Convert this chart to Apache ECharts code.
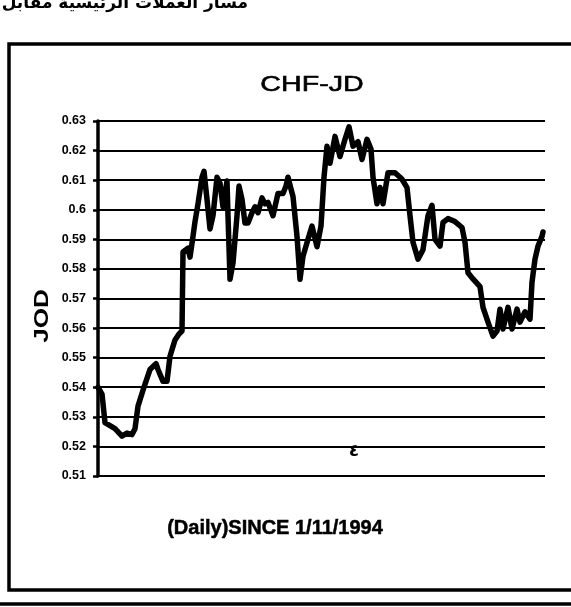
<!DOCTYPE html>
<html>
<head>
<meta charset="utf-8">
<script src="https://cdn.jsdelivr.net/npm/echarts@6/dist/echarts.min.js"></script>
<style>
html,body{margin:0;padding:0;background:#fff;}
#chart{width:571px;height:607px;}
</style>
</head>
<body>
<div id="chart"></div>
<script>
// Time position (days-ish units along the x axis)
const days = [0,4,7,12,17,24,29,34,37,40,
  45,49,52,55,58,60,65,69,72,77,
  81,84,85,87,90,92,95,97,100,104,
  106,109,112,115,119,122,125,129,130,132,
  135,139,141,144,147,150,154,157,160,164,
  167,170,175,180,185,188,190,193,195,199,
  202,205,210,214,219,223,226,229,232,237,
  242,247,251,255,260,264,269,273,275,279,
  282,285,290,297,302,304,309,312,315,320,
  325,330,334,337,342,345,350,357,364,367,
  370,375,382,385,390,395,399,402,405,410,
  414,419,422,427,432,434,437,440,444,445];
// CHF-JD rate
const rates = [0.540,0.5377,0.528,0.527,0.526,0.5235,0.5245,0.524,0.526,0.5336,
  0.539,0.543,0.546,0.547,0.548,0.546,0.542,0.542,0.5505,0.556,
  0.558,0.559,0.5857,0.5857,0.587,0.584,0.591,0.596,0.602,0.611,
  0.613,0.6035,0.5935,0.598,0.611,0.609,0.601,0.6097,0.598,0.5765,
  0.582,0.598,0.608,0.6035,0.5955,0.5955,0.599,0.601,0.599,0.604,
  0.602,0.6025,0.598,0.6055,0.6055,0.608,0.611,0.607,0.6045,0.591,
  0.5765,0.5843,0.590,0.5945,0.5875,0.5945,0.611,0.6215,0.6157,0.6248,
  0.618,0.6238,0.628,0.6215,0.623,0.617,0.6238,0.6205,0.611,0.602,
  0.6075,0.602,0.6125,0.6125,0.611,0.6103,0.6075,0.598,0.589,0.5833,
  0.5865,0.598,0.6015,0.590,0.5877,0.5957,0.597,0.596,0.594,0.589,
  0.5787,0.5766,0.574,0.567,0.562,0.5573,0.559,0.5664,0.5597,0.567,
  0.5597,0.5664,0.562,0.5655,0.563,0.5755,0.5833,0.5877,0.591,0.5925];
const yMin = 0.51, yMax = 0.63, yStep = 0.01;
const xMax = 447;
const titleText = 'CHF-JD';
const yName = 'JOD';
const xName = '(Daily)SINCE 1/11/1994';
const headerText = 'مسار العملات الرئيسية مقابل';

const chart = echarts.init(document.getElementById('chart'), null, {renderer:'canvas'});
chart.setOption({
  animation: false,
  backgroundColor: '#fff',
  grid: {left: 98, right: 26, top: 121, bottom: 131, containLabel: false},
  xAxis: {type: 'value', min: 0, max: xMax, show: false},
  yAxis: {
    type: 'value', min: yMin, max: yMax, interval: yStep,
    axisLine: {show: true, lineStyle: {color: '#000', width: 3.5}},
    axisTick: {show: true, length: 5, lineStyle: {color: '#000', width: 2.5}},
    axisLabel: {color: '#000', fontSize: 12.5, fontWeight: 'bold', fontFamily: 'Liberation Sans, Arial', margin: 12,
      formatter: v => String(Math.round(v * 100) / 100)},
    splitLine: {show: true, lineStyle: {color: '#000', width: 2.2}}
  },
  series: [{
    type: 'line',
    data: days.map((d, i) => [d, rates[i]]),
    showSymbol: false,
    lineStyle: {color: '#000', width: 5.5, join: 'round', cap: 'round'},
    z: 5
  }],
  graphic: [
    {type: 'rect', shape: {x: 9, y: 44, width: 620, height: 546}, style: {fill: 'none', stroke: '#000', lineWidth: 3.5}},
    {type: 'line', shape: {x1: 0, y1: 604, x2: 571, y2: 604}, style: {stroke: '#000', lineWidth: 3.5}},
    {type: 'text', x: 248, y: 4, style: {text: headerText, fill: '#000', font: 'bold 17px "DejaVu Sans"', textAlign: 'right', textVerticalAlign: 'middle'}},
    {type: 'text', x: 312, y: 85, scaleX: 1.3, style: {text: titleText, fill: '#000', font: '22px "Liberation Sans", Arial', textAlign: 'center', textVerticalAlign: 'middle', stroke: '#000', lineWidth: 0.6}},
    {type: 'text', x: 42, y: 316, rotation: Math.PI / 2, scaleX: 1.3, style: {text: yName, fill: '#000', font: 'bold 20px "Liberation Sans", Arial', textAlign: 'center', textVerticalAlign: 'middle'}},
    {type: 'text', x: 275, y: 528, style: {text: xName, fill: '#000', font: 'bold 20px "Liberation Sans", Arial', textAlign: 'center', textVerticalAlign: 'middle', stroke: '#000', lineWidth: 0.5}},
    {type: 'text', x: 354, y: 452, style: {text: '٤', fill: '#000', font: 'bold 17px "DejaVu Sans"', textAlign: 'center', textVerticalAlign: 'middle'}}
  ]
});
</script>
</body>
</html>
